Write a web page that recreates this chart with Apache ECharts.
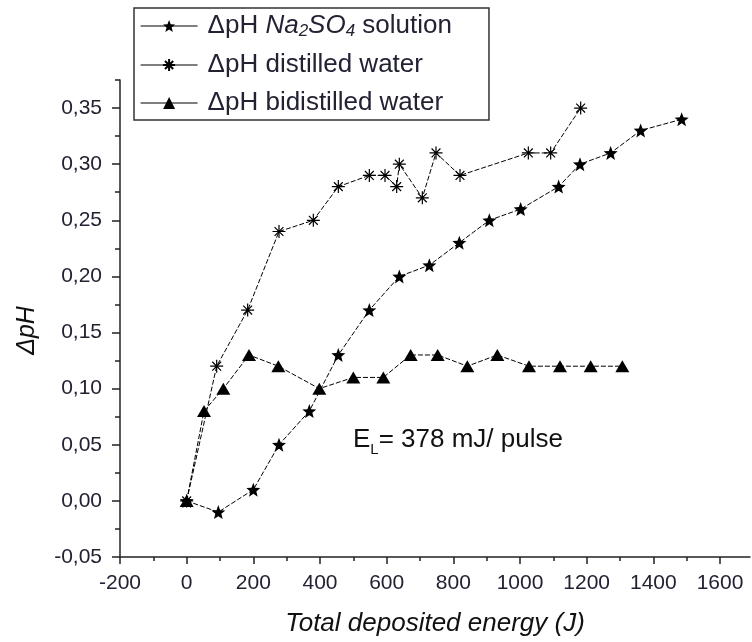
<!DOCTYPE html>
<html><head><meta charset="utf-8">
<script src="https://cdn.jsdelivr.net/npm/echarts@6/dist/echarts.min.js"></script>
<style>html,body{margin:0;padding:0;background:#fff}#c{width:752px;height:642px}</style>
</head><body><div id="c"></div>
<script>
// ---- data ----
const seriesNames = ['ΔpH Na2SO4 solution', 'ΔpH distilled water', 'ΔpH bidistilled water'];
const na2so4Energy = [0, 95, 200, 277, 368, 455, 548, 638, 728, 818, 908, 1002, 1116, 1180, 1272, 1362, 1485];
const na2so4DpH    = [0, -0.01, 0.01, 0.05, 0.08, 0.13, 0.17, 0.20, 0.21, 0.23, 0.25, 0.26, 0.28, 0.30, 0.31, 0.33, 0.34];
const distEnergy   = [0, 90, 183, 277, 380, 455, 548, 595, 630, 638, 707, 748, 820, 1025, 1092, 1182];
const distDpH      = [0, 0.12, 0.17, 0.24, 0.25, 0.28, 0.29, 0.29, 0.28, 0.30, 0.27, 0.31, 0.29, 0.31, 0.31, 0.35];
const bidistEnergy = [0, 52, 110, 187, 275, 398, 500, 590, 672, 753, 842, 932, 1027, 1120, 1212, 1307];
const bidistDpH    = [0, 0.08, 0.10, 0.13, 0.12, 0.10, 0.11, 0.11, 0.13, 0.13, 0.12, 0.13, 0.12, 0.12, 0.12, 0.12];
const xTickValues  = [-200, 0, 200, 400, 600, 800, 1000, 1200, 1400, 1600];
const xMinorTicks  = [-100, 100, 300, 500, 700, 900, 1100, 1300, 1500];
const yTickValues  = [-0.05, 0, 0.05, 0.10, 0.15, 0.20, 0.25, 0.30, 0.35];
const yMinorTicks  = [-0.025, 0.025, 0.075, 0.125, 0.175, 0.225, 0.275, 0.325, 0.375];
const xAxisTitle = 'Total deposited energy (J)';
const yAxisTitle = 'ΔpH';

// ---- helpers ----
const zip = (xs, ys) => xs.map((x, i) => [x, ys[i]]);
function starPath() {
  const pts = [];
  for (let i = 0; i < 10; i++) {
    const r = i % 2 === 0 ? 10 : 4.3;
    const a = -Math.PI / 2 + i * Math.PI / 5;
    pts.push((10 + r * Math.cos(a)).toFixed(2) + ',' + (10 + r * Math.sin(a)).toFixed(2));
  }
  return 'path://M' + pts.join('L') + 'Z';
}
const STAR = starPath();
const ASTER = 'path://M0,5L10,5M5,0L5,10M1.6,1.6L8.4,8.4M8.4,1.6L1.6,8.4';
const FONT = 'Liberation Sans, Arial, sans-serif';
const TXT = '#222233';

const chart = echarts.init(document.getElementById('c'), null, {renderer: 'canvas'});
const lineStyle = {color: '#000', width: 1, type: [5, 2]};
const fmtY = v => (v < 0 ? '-' : '') + Math.abs(v).toFixed(2).replace('.', ',');
const fmtX = v => String(Math.round(v));

const option = {
  animation: false,
  backgroundColor: '#fff',
  grid: {left: 120, top: 80, width: 630, height: 478, containLabel: false},
  xAxis: [{
    type: 'value', min: -200, max: 1690,
    axisLine: {show: true, onZero: false, lineStyle: {color: '#222', width: 1.5}},
    axisTick: {show: true, inside: false, length: 7, customValues: xTickValues, lineStyle: {color: '#222', width: 1.5}},
    axisLabel: {show: true, customValues: xTickValues, formatter: fmtX, margin: 16, fontFamily: FONT, fontSize: 21, color: TXT},
    splitLine: {show: false},
    name: xAxisTitle, nameLocation: 'middle', nameGap: 54,
    nameTextStyle: {fontFamily: FONT, fontSize: 26, fontStyle: 'italic', color: '#111'}
  }, {
    type: 'value', min: -200, max: 1690, position: 'bottom',
    axisLine: {show: false, onZero: false},
    axisTick: {show: true, inside: false, length: 4, customValues: xMinorTicks, lineStyle: {color: '#222', width: 1.5}},
    axisLabel: {show: false}, splitLine: {show: false}
  }],
  yAxis: [{
    type: 'value', min: -0.05, max: 0.375,
    axisLine: {show: true, onZero: false, lineStyle: {color: '#222', width: 1.5}},
    axisTick: {show: true, length: 8, customValues: yTickValues, lineStyle: {color: '#222', width: 1.5}},
    axisLabel: {show: true, customValues: yTickValues, margin: 18, formatter: fmtY, fontFamily: FONT, fontSize: 21, color: TXT},
    splitLine: {show: false},
    name: yAxisTitle, nameLocation: 'middle', nameRotate: 90, nameGap: 80,
    nameTextStyle: {fontFamily: FONT, fontSize: 25, fontStyle: 'italic', color: '#111', padding: [0, 24, 0, 0]}
  }, {
    type: 'value', min: -0.05, max: 0.375, position: 'left', offset: 0,
    axisLine: {show: false, onZero: false},
    axisTick: {show: true, inside: false, length: 5, customValues: yMinorTicks, lineStyle: {color: '#222', width: 1.5}},
    axisLabel: {show: false}, splitLine: {show: false}
  }],
  legend: {
    orient: 'vertical', left: 134, top: 8,
    padding: [5, 37, 4, 6],
    borderColor: '#333', borderWidth: 1.5,
    itemWidth: 57, itemHeight: 15, itemGap: 12,
    lineStyle: {type: 'solid', width: 1.2, color: '#000'},
    data: seriesNames,
    formatter: name => {
      if (name === seriesNames[0]) return '{n|ΔpH }{i|Na}{s|2}{i|SO}{s|4}{n| solution}';
      return '{n|' + name + '}';
    },
    textStyle: {
      fontFamily: FONT, fontSize: 26, color: TXT, padding: [0, 0, 0, 5],
      rich: {
        n: {fontFamily: FONT, fontSize: 26, color: TXT, lineHeight: 28},
        i: {fontFamily: FONT, fontSize: 26, color: TXT, fontStyle: 'italic', lineHeight: 28},
        s: {fontFamily: FONT, fontSize: 17, color: TXT, fontStyle: 'italic', lineHeight: 10, verticalAlign: 'bottom'}
      }
    }
  },
  graphic: [{
    type: 'text', left: 353, top: 425,
    style: {
      text: '{e|E}{l|L}{e|= 378 mJ/ pulse}',
      rich: {
        e: {fontFamily: FONT, fontSize: 26, fill: '#111', lineHeight: 30},
        l: {fontFamily: FONT, fontSize: 15, fill: '#111', lineHeight: 15, verticalAlign: 'top', padding: [17, 0, 0, 0]}
      }
    }
  }],
  series: [{
    name: seriesNames[0], type: 'line', data: zip(na2so4Energy, na2so4DpH),
    symbol: STAR, symbolSize: 14, lineStyle: lineStyle,
    itemStyle: {color: '#000', borderWidth: 0}, z: 3
  }, {
    name: seriesNames[1], type: 'line', data: zip(distEnergy, distDpH),
    symbol: ASTER, symbolSize: 13, lineStyle: lineStyle,
    itemStyle: {color: 'rgba(0,0,0,0)', borderColor: '#000', borderWidth: 1.2}, z: 2
  }, {
    name: seriesNames[2], type: 'line', data: zip(bidistEnergy, bidistDpH),
    symbol: 'triangle', symbolSize: [14, 12], lineStyle: lineStyle,
    itemStyle: {color: '#000', borderWidth: 0}, z: 4
  }]
};
chart.setOption(option);
</script></body></html>
